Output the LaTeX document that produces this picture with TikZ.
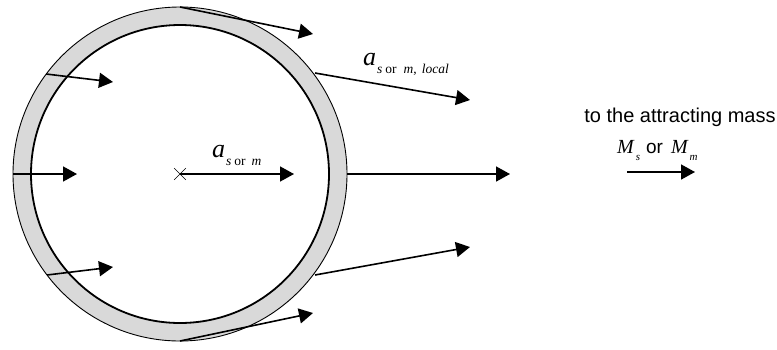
\documentclass[tikz,border=0pt]{standalone}
\usepackage{fontspec}
\setmainfont{Liberation Serif}
\newfontfamily\sansfont{Liberation Sans}
\usetikzlibrary{arrows.meta, shapes.misc}

\newcommand{\accel}[1]{{\fontsize{26}{26}\selectfont\itshape a}\hspace{1pt}\raisebox{-8pt}{\fontsize{13.5}{13.5}\selectfont #1}}
\newcommand{\massym}[1]{{\fontsize{20}{20}\selectfont\itshape M}\hspace{2pt}\raisebox{-7pt}{\fontsize{11}{11}\selectfont\itshape #1}}

\begin{document}
\begin{tikzpicture}[x=1pt, y=-1pt,
    force/.style={line width=1.6pt, -{Triangle[length=14pt, width=15pt]}}]
    \useasboundingbox (0,0) rectangle (777,349);

    % Draw shell
    \fill[gray!30, draw=black, line width=0.9pt] (180,174) circle (167pt);
    \draw[fill=white, line width=1.8pt] (180,174) circle (149pt);
    \node[cross out, draw, minimum size=11pt, inner sep=0pt, line width=0.6pt] (ctr) at (180,174) {};

    % Start points on the shell
    \coordinate (top) at (180,7);
    \coordinate (bot) at (180,341);
    \coordinate (left) at (13,174);
    \coordinate (upleft) at (46,74);
    \coordinate (lowleft) at (47,275);
    \coordinate (upright) at (315,73);
    \coordinate (right) at (347,174);
    \coordinate (lowright) at (315,275);

    % End points
    \coordinate (topend) at (313,34);
    \coordinate (botend) at (313,313);
    \coordinate (leftend) at (77,174);
    \coordinate (upleftend) at (113,82);
    \coordinate (lowleftend) at (113,267);
    \coordinate (uprightend) at (470,100);
    \coordinate (rightend) at (510,174);
    \coordinate (lowrightend) at (470,247);
    \coordinate (ctrend) at (294,174);

    % Draw forces
    \draw[force] (top) -- (topend);
    \draw[force] (bot) -- (botend);
    \draw[force] (left) -- (leftend);
    \draw[force] (upleft) -- (upleftend);
    \draw[force] (lowleft) -- (lowleftend);
    \draw[force] (upright) -- (uprightend);
    \draw[force] (right) -- (rightend);
    \draw[force] (lowright) -- (lowrightend);
    \draw[force] (ctr.center) -- (ctrend);

    % Labels
    \node[anchor=base west, inner sep=0pt] (acc) at (212,157) {\accel{\textit{s}\hspace{3pt}or\hspace{6pt}\textit{m}}};
    \node[anchor=base west, inner sep=0pt] (acclocal) at (363,65) {\accel{\textit{s}\hspace{3pt}or\hspace{7pt}\textit{m},\hspace{5pt}\textit{local}}};
    \node[anchor=base, inner sep=0pt, font=\sansfont\fontsize{20}{20}\selectfont] (mass) at (680,122) {to the attracting mass};
    \node[anchor=base west, inner sep=0pt] (msym) at (617,153) {\massym{s}\hspace{6pt}{\sansfont\fontsize{19}{19}\selectfont or}\hspace{8pt}\massym{m}};

    % Direction of the attracting mass
    \coordinate (dirstart) at (627,172);
    \coordinate (dirend) at (695,172);
    \draw[force] (dirstart) -- (dirend);
\end{tikzpicture}
\end{document}
